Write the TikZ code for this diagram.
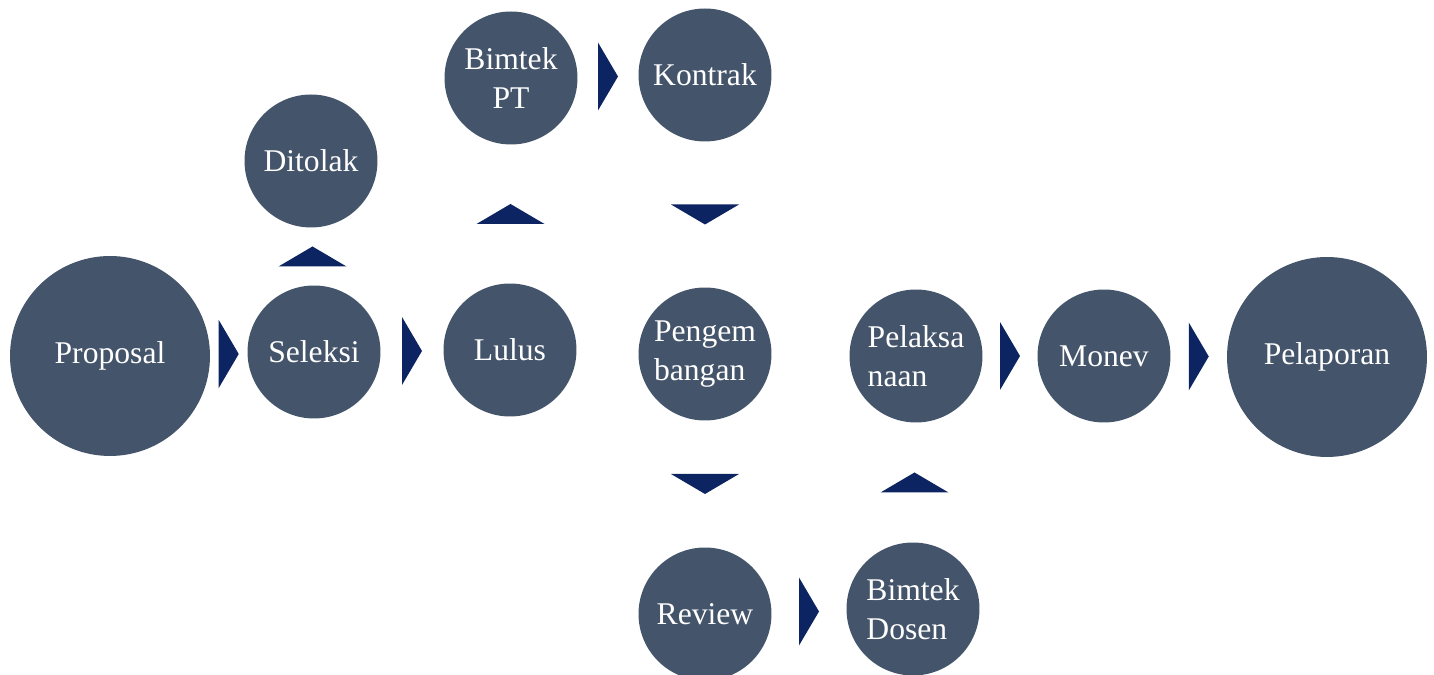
\documentclass[tikz,border=0pt]{standalone}
\usepackage{fontspec}
\setmainfont{Liberation Serif}
\usetikzlibrary{calc}

\definecolor{circfill}{HTML}{44546A}
\definecolor{arrownavy}{HTML}{0C2461}

\tikzset{
	phase/.style={circle, fill=circfill, text=white, inner sep=0pt,
		minimum size=2.66cm, font=\fontsize{18}{22}\selectfont},
	bigphase/.style={phase, minimum size=4cm},
	tri/.pic={\fill[arrownavy] (-10,-34) -- (10,0) -- (-10,34) -- cycle;}
}

\begin{document}
\begin{tikzpicture}[x=0.02cm, y=0.02cm]
	\useasboundingbox (0,0) rectangle (1434,675);
	\node[bigphase] (proposal) at (110,319) {Proposal};
	\node[phase] (seleksi) at (314,323) {Seleksi};
	\node[phase] (ditolak) at (311,514) {Ditolak};
	\node[phase] (lulus) at (510,325) {Lulus};
	\node[phase, align=center] (bimtekpt) at (511,597) {Bimtek\\PT};
	\node[phase] (kontrak) at (705,600) {Kontrak};
	\node[phase, align=left] (pengembangan) at (705,321) {Pengem\\bangan};
	\node[phase] (review) at (705,61) {Review};
	\node[phase, align=left] (bimtekdosen) at (913,66) {Bimtek\\Dosen};
	\node[phase, align=left] (pelaksanaan) at (916,319) {Pelaksa\\naan};
	\node[phase] (monev) at (1104,319) {Monev};
	\node[bigphase] (pelaporan) at (1327,318) {Pelaporan};
	\pic at ($(proposal.east)!.5!(seleksi.west)$) {tri};
	\pic[rotate=90] at ($(seleksi.north)!.5!(ditolak.south)$) {tri};
	\pic at ($(seleksi.east)!.5!(lulus.west)$) {tri};
	\pic[rotate=90] at ($(lulus.north)!.5!(bimtekpt.south)$) {tri};
	\pic at ($(bimtekpt.east)!.5!(kontrak.west)$) {tri};
	\pic[rotate=-90] at ($(kontrak.south)!.5!(pengembangan.north)$) {tri};
	\pic[rotate=-90] at ($(pengembangan.south)!.5!(review.north)$) {tri};
	\pic at ($(review.east)!.5!(bimtekdosen.west)$) {tri};
	\pic[rotate=90] at ($(bimtekdosen.north)!.5!(pelaksanaan.south)$) {tri};
	\pic at ($(pelaksanaan.east)!.5!(monev.west)$) {tri};
	\pic at ($(monev.east)!.5!(pelaporan.west)$) {tri};
\end{tikzpicture}
\end{document}
